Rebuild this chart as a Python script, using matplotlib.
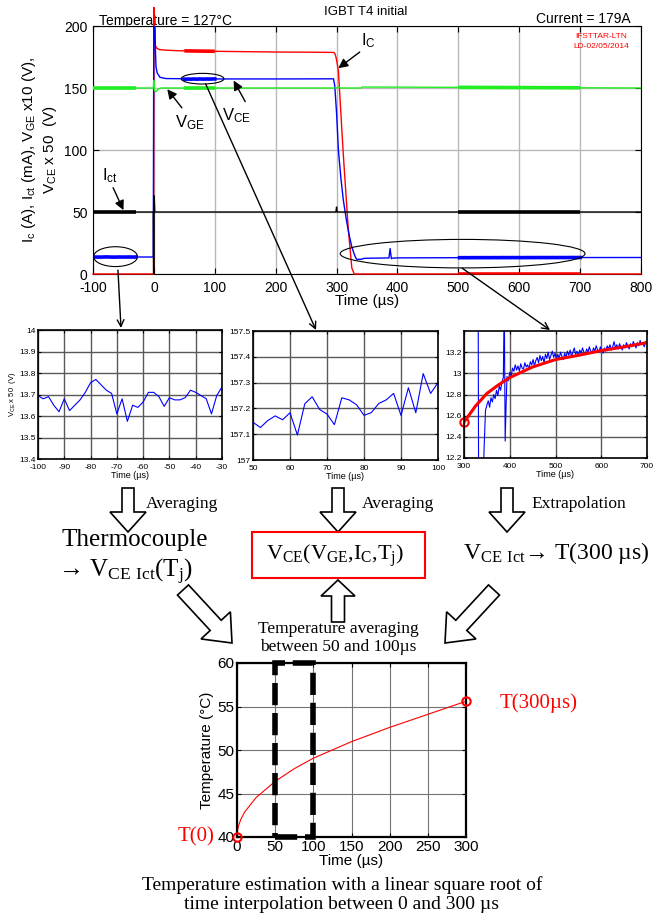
import numpy as np
import matplotlib
matplotlib.use('Agg')
import matplotlib.pyplot as plt
from matplotlib.patches import Ellipse, FancyArrow, Rectangle, ConnectionPatch
from matplotlib.ticker import FormatStrFormatter

W, H = 662, 922
SANS = 'Liberation Sans'
SERIF = 'Liberation Serif'

# main oscillogram, coarse traces (time in us)
t_ic = [-100, -0.5, 0, 1, 2.5, 5, 9, 20, 42, 100, 150, 200, 250, 295, 297, 299, 301, 303, 311, 319, 325, 329, 800]
ic = [0, 0, 215, 200, 184, 182, 181, 180.5, 180, 179.6, 179.3, 179, 178.9, 178.7, 178, 175, 170, 164, 97, 38, 5, 0, 0]

t_vce = [-100, -1, 0, 1.5, 2.5, 3.5, 5.5, 10, 20, 100, 200, 295, 297, 300, 303, 307, 311, 316, 320, 325, 329, 331,
         333, 341, 345, 350, 386, 388, 390, 392, 400, 500, 700, 800]
vce = [13.7, 13.7, 240, 205, 180, 167, 162, 158.6, 157.6, 157.3, 157.3, 157.4, 152, 130, 100, 78, 60, 44, 33, 22, 16, 13.6,
       11.8, 11.9, 12.6, 12.7, 12.96, 20.5, 12.4, 12.8, 13.0, 13.15, 13.28, 13.3]

t_vge = [-100, -1, 0, 1, 3, 5, 8, 12, 300, 303, 306, 340, 342, 800]
vge = [150, 150, 156, 148, 147, 147.8, 149.3, 150, 150, 151, 150, 150, 150.8, 150]

t_ict = [-100, -1, -0.5, 0, 0.5, 1.5, 299, 300, 301, 800]
ict = [50, 50, 0, 0, 63, 50, 50, 54, 50, 50]

windows = [(-100, -30), (50, 100), (500, 700)]

# zoom 1: VCE before turn-on
t_z1 = list(range(-100, -28, 2))
v_z1 = [13.694, 13.68, 13.69, 13.65, 13.62, 13.68, 13.625, 13.65, 13.675, 13.71, 13.755, 13.77,
        13.745, 13.72, 13.705, 13.61, 13.68, 13.575, 13.65, 13.64, 13.665, 13.71, 13.71, 13.69,
        13.645, 13.685, 13.675, 13.675, 13.685, 13.72, 13.71, 13.695, 13.68, 13.61, 13.695, 13.735]

# zoom 2: VCE during conduction
t_z2 = list(range(50, 102, 2))
v_z2 = [157.146, 157.126, 157.153, 157.171, 157.156, 157.183, 157.097, 157.218, 157.245, 157.196,
        157.178, 157.137, 157.241, 157.233, 157.214, 157.173, 157.184, 157.219, 157.233, 157.258,
        157.173, 157.28, 157.183, 157.335, 157.258, 157.3]

# zoom 3: VCE after turn-off (measured) and fitted extrapolation
t_z3 = [300, 318, 326, 331, 332, 341, 344, 347,
        350, 353, 356, 359, 362, 365, 368, 371, 374, 377, 380, 383, 386, 388, 390, 392, 394, 397,
        400, 403, 406, 409, 412, 415, 418, 421, 424, 427, 430, 433, 436, 439, 442, 445, 448, 451,
        454, 457, 460, 463, 466, 469, 472, 475, 478, 481, 484, 487, 490, 493, 496, 499, 502, 505,
        508, 511, 514, 517, 520, 523, 526, 529, 532, 535, 538, 541, 544, 547, 550, 553, 556, 559,
        562, 565, 568, 571, 574, 577, 580, 583, 586, 589, 592, 595, 598, 601, 604, 607, 610, 613,
        616, 619, 622, 625, 628, 631, 634, 637, 640, 643, 646, 649, 652, 655, 658, 661, 664, 667,
        670, 673, 676, 679, 682, 685, 688, 691, 694, 697, 700]
v_z3 = [157, 40, 17, 13.6, 11.8, 11.9, 12.3, 12.65,
        12.70, 12.74, 12.68, 12.77, 12.73, 12.80, 12.76, 12.84, 12.79, 12.88, 12.84, 12.92, 12.96, 13.70, 12.36, 12.70, 12.97, 12.93,
        13.01, 12.97, 13.05, 13.02, 13.08, 13.03, 13.07, 13.02, 13.09, 13.05, 13.04, 13.10, 13.06, 13.08, 13.04, 13.11, 13.08, 13.13,
        13.07, 13.12, 13.15, 13.10, 13.17, 13.12, 13.16, 13.10, 13.18, 13.14, 13.20, 13.13, 13.17, 13.21, 13.15, 13.19, 13.13, 13.18,
        13.14, 13.20, 13.16, 13.13, 13.19, 13.15, 13.21, 13.17, 13.22, 13.16, 13.20, 13.24, 13.18, 13.21, 13.17, 13.22, 13.19, 13.24,
        13.20, 13.18, 13.23, 13.20, 13.25, 13.21, 13.19, 13.24, 13.21, 13.26, 13.22, 13.20, 13.25, 13.22, 13.19, 13.24, 13.21, 13.26,
        13.23, 13.27, 13.22, 13.25, 13.30, 13.24, 13.27, 13.23, 13.28, 13.25, 13.22, 13.27, 13.24, 13.29, 13.26, 13.23, 13.28, 13.25,
        13.30, 13.27, 13.24, 13.29, 13.26, 13.31, 13.27, 13.29, 13.25, 13.30, 13.28]
t_fit = [300, 325, 350, 375, 400, 425, 450, 500, 550, 600, 650, 700]
v_fit = [12.54, 12.69, 12.81, 12.89, 12.96, 13.01, 13.06, 13.13, 13.17, 13.215, 13.25, 13.29]

# junction temperature estimate
t_temp = [0, 0.5, 1, 2, 5, 10, 25, 50, 75, 100, 150, 200, 250, 300]
temp = [40, 40.64, 40.9, 41.28, 42.03, 42.87, 44.53, 46.4, 47.85, 49.06, 50.96, 52.6, 54.1, 55.6]
avg_window = [50, 100]

RED, BLUE, GREEN = '#ff0000', '#0000ff', '#22ee22'


def px_axes(fig, left, top, right, bottom):
    return fig.add_axes([left / W, 1 - bottom / H, (right - left) / W, (bottom - top) / H])


def segment(ax, t, v, win, color, lw=2.6):
    """Redraw the part of a trace inside an averaging window, thicker."""
    tt = np.linspace(win[0], win[1], 200)
    ax.plot(tt, np.interp(tt, t, v), color=color, lw=lw, solid_capstyle='butt', zorder=3)


def style_small(ax):
    ax.tick_params(direction='in', length=2, labelsize=6, pad=1.5, top=True, right=True)
    ax.tick_params(axis='x', pad=3.5)
    ax.grid(True, color='0.35', lw=1.0)
    for s in ax.spines.values():
        s.set_linewidth(1.2)
    ax.yaxis.set_major_formatter(FormatStrFormatter('%g'))
    ax.set_xlabel('Time (µs)', fontsize=6.5, labelpad=0)


plt.rcParams['font.family'] = [SANS, 'DejaVu Sans']
plt.rcParams['axes.unicode_minus'] = False
fig = plt.figure(figsize=(W / 100, H / 100), dpi=100, facecolor='white')

# ---------------- main oscillogram ----------------
ax = px_axes(fig, 93, 26, 641, 274)
ax.plot(t_ic, ic, color=RED, lw=1.0, zorder=3, clip_on=False)
ax.plot(t_vce, vce, color=BLUE, lw=1.0, zorder=3)
ax.plot(t_vge, vge, color=GREEN, lw=1.0, zorder=3)
ax.plot(t_ict, ict, color='black', lw=1.0, zorder=3)
for win in windows:
    segment(ax, t_vge, vge, win, GREEN)
segment(ax, t_ict, ict, windows[0], 'black')
segment(ax, t_ict, ict, windows[2], 'black')
segment(ax, t_ic, ic, windows[1], RED)
segment(ax, t_ic, ic, windows[2], RED)
ax.plot(t_z1, v_z1, color=BLUE, lw=2.6, zorder=3)
ax.plot(t_z2, v_z2, color=BLUE, lw=2.6, zorder=3)
sel = [i for i, t in enumerate(t_z3) if t >= 500]
ax.plot([t_z3[i] for i in sel], [v_z3[i] for i in sel], color=BLUE, lw=2.6, zorder=3)

ax.set_xlim(-100, 800)
ax.set_ylim(0, 200)
ax.set_xticks(range(-100, 801, 100))
ax.set_yticks(range(0, 201, 50))
ax.grid(True, color='#b8b8b8', lw=1.0)
ax.tick_params(direction='in', length=4, labelsize=10, top=True, right=True, pad=4)
ax.tick_params(axis='x', pad=5)
ax.set_xlabel('Time (µs)', fontsize=11, labelpad=-1)
ax.set_ylabel('$\\mathregular{I_c}$ (A), $\\mathregular{I_{ct}}$ (mA), $\\mathregular{V_{GE}}$ x10 (V),\n'
              '$\\mathregular{V_{CE}}$ x 50  (V)', fontsize=11, labelpad=4)
ax.text(734, 187.5, 'IFSTTAR-LTN\nLD-02/05/2014', color=RED, fontsize=6, ha='center', va='center',
        linespacing=1.6)

for e in [Ellipse((-63, 14), 72, 16), Ellipse((80, 157.5), 70, 8.6), Ellipse((507, 16.4), 402, 23)]:
    e.set_fill(False)
    e.set_edgecolor('black')
    e.set_linewidth(0.8)
    e.set_clip_on(False)
    e.set_zorder(4)
    ax.add_patch(e)

arw = dict(arrowstyle='-|>', color='black', lw=1.0, mutation_scale=14, shrinkA=0, shrinkB=0)
ax.annotate('', xy=(303, 166), xytext=(338, 179), arrowprops=arw)
ax.annotate('', xy=(22, 149), xytext=(46, 134), arrowprops=arw)
ax.annotate('', xy=(131, 156), xytext=(150, 139), arrowprops=arw)
ax.annotate('', xy=(-50, 51.5), xytext=(-67, 69.6), arrowprops=arw)
ax.text(340, 188, '$\\mathregular{I_C}$', fontsize=12, ha='left', va='center')
ax.text(59, 122, '$\\mathregular{V_{GE}}$', fontsize=12, ha='center', va='center')
ax.text(136, 128, '$\\mathregular{V_{CE}}$', fontsize=12, ha='center', va='center')
ax.text(-72, 79, '$\\mathregular{I_{ct}}$', fontsize=12, ha='center', va='center')

fig.text(366 / W, 1 - 12 / H, 'IGBT T4 initial', fontsize=9.5, ha='center', va='center')
fig.text(99 / W, 1 - 21 / H, 'Temperature = 127°C', fontsize=10, ha='left', va='center', zorder=-1)
fig.text(631 / W, 1 - 19 / H, 'Current = 179A', fontsize=10, ha='right', va='center')

# ---------------- zooms ----------------
a1 = px_axes(fig, 38, 330, 222, 459)
a1.plot(t_z1, v_z1, color=BLUE, lw=0.8)
a1.set_xlim(-100, -30)
a1.set_ylim(13.4, 14)
a1.set_xticks(range(-100, -29, 10))
a1.set_yticks(np.arange(13.4, 14.01, 0.1))
style_small(a1)
a1.set_ylabel('$\\mathregular{V_{CE}}$ x 50  (V)', fontsize=5.5, labelpad=1)

a2 = px_axes(fig, 253, 331, 438, 460)
a2.plot(t_z2, v_z2, color=BLUE, lw=0.8)
a2.set_xlim(50, 100)
a2.set_ylim(157, 157.5)
a2.set_xticks(range(50, 101, 10))
a2.set_yticks(np.arange(157, 157.51, 0.1))
style_small(a2)

a3 = px_axes(fig, 464, 331, 647, 458)
a3.plot(t_z3, v_z3, color=BLUE, lw=0.8)
a3.plot(t_fit, v_fit, color=RED, lw=2.2)
a3.plot(t_fit[0], v_fit[0], 'o', mfc='none', mec=RED, mew=1.5, ms=6, clip_on=False)
a3.set_xlim(300, 700)
a3.set_ylim(12.2, 13.4)
a3.set_xticks(range(300, 701, 100))
a3.set_yticks(np.arange(12.2, 13.21, 0.2))
style_small(a3)

# ---------------- temperature estimate ----------------
a4 = px_axes(fig, 237, 663, 466, 837)
a4.plot(t_temp, temp, color=RED, lw=0.8)
a4.plot([t_temp[0], t_temp[-1]], [temp[0], temp[-1]], 'o', mfc='none', mec=RED, mew=1.5, ms=6,
        clip_on=False, zorder=5)
a4.add_patch(Rectangle((avg_window[0], 40), avg_window[1] - avg_window[0], 20, fill=False, ec='black',
                       lw=4, ls=(0, (4, 1.4)), clip_on=False, zorder=4))
a4.set_xlim(0, 300)
a4.set_ylim(40, 60)
a4.set_xticks(range(0, 301, 50))
a4.set_yticks(range(40, 61, 5))
a4.grid(True, color='0.45', lw=0.8)
a4.tick_params(direction='in', length=3, labelsize=11, top=True, right=True, pad=2)
for s in a4.spines.values():
    s.set_linewidth(1.6)
a4.set_xlabel('Time (µs)', fontsize=11, labelpad=0)
a4.set_ylabel('Temperature (°C)', fontsize=11, labelpad=2)

# ---------------- flow diagram overlay (pixel coordinates) ----------------
ov = fig.add_axes([0, 0, 1, 1], zorder=10)
ov.set_xlim(0, W)
ov.set_ylim(H, 0)
ov.axis('off')

hollow = dict(fc='white', ec='black', lw=1.2, length_includes_head=True)
for x in [128, 338, 507]:
    ov.add_patch(FancyArrow(x, 488, 0, 44, width=12, head_width=36, head_length=20, **hollow))
ov.add_patch(FancyArrow(338, 622, 0, -42, width=13, head_width=34, head_length=16, **hollow))
ov.add_patch(FancyArrow(183, 590, 49, 53, width=15, head_width=40, head_length=24, **hollow))
ov.add_patch(FancyArrow(494, 590, -49, 53, width=15, head_width=40, head_length=24, **hollow))

sf = dict(family=[SERIF, 'DejaVu Serif'])
ov.text(146, 504, 'Averaging', fontsize=12.5, ha='left', va='center', **sf)
ov.text(362, 504, 'Averaging', fontsize=12.5, ha='left', va='center', **sf)
ov.text(531, 504, 'Extrapolation', fontsize=12.5, ha='left', va='center', **sf)
ov.text(61, 540, 'Thermocouple', fontsize=18, ha='left', va='center', **sf)
ov.text(58, 572, '→ $\\mathregular{V_{CE\\ Ict}(T_j)}$', fontsize=18, ha='left', va='center', **sf)
ov.add_patch(Rectangle((252, 532), 173, 46, fill=False, ec=RED, lw=1.5))
ov.text(335, 556, '$\\mathregular{V_{CE}(V_{GE}{,}I_C{,}T_j)}$', fontsize=16, ha='center', va='center', **sf)
ov.text(463, 553, '$\\mathregular{V_{CE\\ Ict}}$→ T(300 µs)', fontsize=17, ha='left', va='center', **sf)
ov.text(338, 638, 'Temperature averaging\nbetween 50 and 100µs', fontsize=12.5, ha='center', va='center',
        linespacing=1.1, **sf)
ov.text(214, 837, 'T(0)', fontsize=15, color=RED, ha='right', va='center', **sf)
ov.text(500, 703, 'T(300µs)', fontsize=15, color=RED, ha='left', va='center', **sf)
ov.text(342, 895, 'Temperature estimation with a linear square root of\ntime interpolation between 0 and 300 µs',
        fontsize=14, ha='center', va='center', linespacing=1.15, **sf)

# lines from the averaging windows down to the zooms
for xyA, xyB in [((-59, 3.2), (121, 328)), ((85, 153.3), (316, 330)), ((506, 4.8), (550, 330))]:
    con = ConnectionPatch(xyA=xyA, coordsA=ax.transData, xyB=xyB, coordsB=ov.transData,
                          arrowstyle='->', mutation_scale=12, lw=1.0, color='black', zorder=20)
    fig.add_artist(con)

fig.savefig('out.png', dpi=100, facecolor='white')
